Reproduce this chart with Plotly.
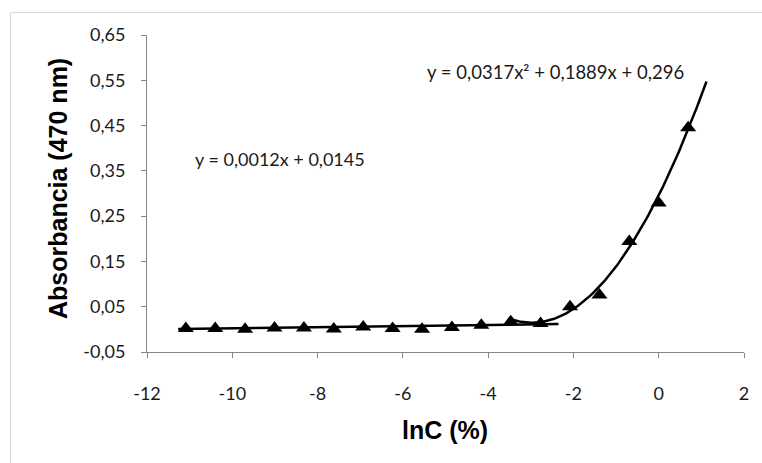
import numpy as np
import plotly.graph_objects as go

# Data
x_lnC = [-11.09, -10.40, -9.70, -9.01, -8.32, -7.62, -6.93, -6.24, -5.55,
         -4.85, -4.16, -3.47, -2.77, -2.08, -1.39, -0.69, 0.00, 0.69]
absorb = [0.002, 0.002, 0.000, 0.003, 0.003, 0.001, 0.005, 0.002, 0.000,
          0.004, 0.009, 0.017, 0.013, 0.050, 0.076, 0.194, 0.279, 0.445]

# Trendline coefficients (from the equations shown)
lin_coef = [0.0012, 0.0145]            # slope, intercept
quad_coef = [0.0317, 0.1889, 0.296]    # a, b, c
lin_range = [-11.27, -2.35]
quad_range = [-3.5, 1.12]

x_tickvals = [-12, -10, -8, -6, -4, -2, 0, 2]
x_ticktext = ["-12", "-10", "-8", "-6", "-4", "-2", "0", "2"]
y_tickvals = [-0.05, 0.05, 0.15, 0.25, 0.35, 0.45, 0.55, 0.65]
y_ticktext = ["-0,05", "0,05", "0,15", "0,25", "0,35", "0,45", "0,55", "0,65"]

eq_lin = "y = 0,0012x + 0,0145"
eq_quad = "y = 0,0317x² + 0,1889x + 0,296"

xl = np.linspace(lin_range[0], lin_range[1], 50)
yl = np.polyval(lin_coef, xl)
xq = np.linspace(quad_range[0], quad_range[1], 120)
yq = np.polyval(quad_coef, xq)

fig = go.Figure()
fig.add_trace(go.Scatter(x=xl, y=yl, mode="lines",
                         line=dict(color="black", width=2.5), showlegend=False,
                         hoverinfo="skip"))
fig.add_trace(go.Scatter(x=xq, y=yq, mode="lines",
                         line=dict(color="black", width=2.5), showlegend=False,
                         hoverinfo="skip"))
fig.add_trace(go.Scatter(x=x_lnC, y=absorb, mode="markers",
                         marker=dict(symbol="triangle-up", size=14, color="black"),
                         showlegend=False))

L, R, T, B = 147, 18, 35, 111
W, H = 762, 463
pw, ph = W - L - R, H - T - B

def px_x(p):
    return (p - L) / pw

def px_y(p):
    return (H - B - p) / ph

tick_font = dict(family="Lato", size=18, color="#1a1a1a")

fig.update_layout(
    width=W, height=H, autosize=False,
    margin=dict(l=L, r=R, t=T, b=B),
    paper_bgcolor="white", plot_bgcolor="white",
    xaxis=dict(range=[-12, 2], tickvals=x_tickvals, ticktext=x_ticktext,
               showgrid=False, zeroline=False, showline=True,
               linecolor="#868686", linewidth=1, ticks="outside", ticklen=5,
               tickcolor="#868686", tickfont=tick_font, ticklabelstandoff=20),
    yaxis=dict(range=[-0.05, 0.65], tickvals=y_tickvals, ticktext=y_ticktext,
               showgrid=False, zeroline=False, showline=True,
               linecolor="#868686", linewidth=1, ticks="outside", ticklen=5,
               tickcolor="#868686", tickfont=tick_font, ticklabelstandoff=12),
    shapes=[dict(type="rect", xref="paper", yref="paper",
                 x0=px_x(10.5), x1=px_x(800), y0=px_y(500), y1=px_y(12.5),
                 line=dict(color="#d9d9d9", width=1), layer="below")],
    annotations=[
        dict(text=eq_lin, x=-10.92, y=0.377, xref="x", yref="y",
             xanchor="left", yanchor="middle", showarrow=False,
             font=dict(family="Lato", size=18, color="#1a1a1a")),
        dict(text=eq_quad, x=-5.48, y=0.569, xref="x", yref="y",
             xanchor="left", yanchor="middle", showarrow=False,
             font=dict(family="Lato", size=18.5, color="#1a1a1a")),
        dict(text="lnC (%)", x=px_x(445), y=px_y(430), xref="paper", yref="paper",
             xanchor="center", yanchor="middle", showarrow=False,
             font=dict(family="Liberation Sans", size=25, color="black", weight="bold")),
        dict(text="Absorbancia (470 nm)", x=px_x(58), y=px_y(189), xref="paper", yref="paper",
             xanchor="center", yanchor="middle", showarrow=False, textangle=-90,
             font=dict(family="Liberation Sans", size=25, color="black", weight="bold")),
    ],
)

fig.write_html("out.html")
